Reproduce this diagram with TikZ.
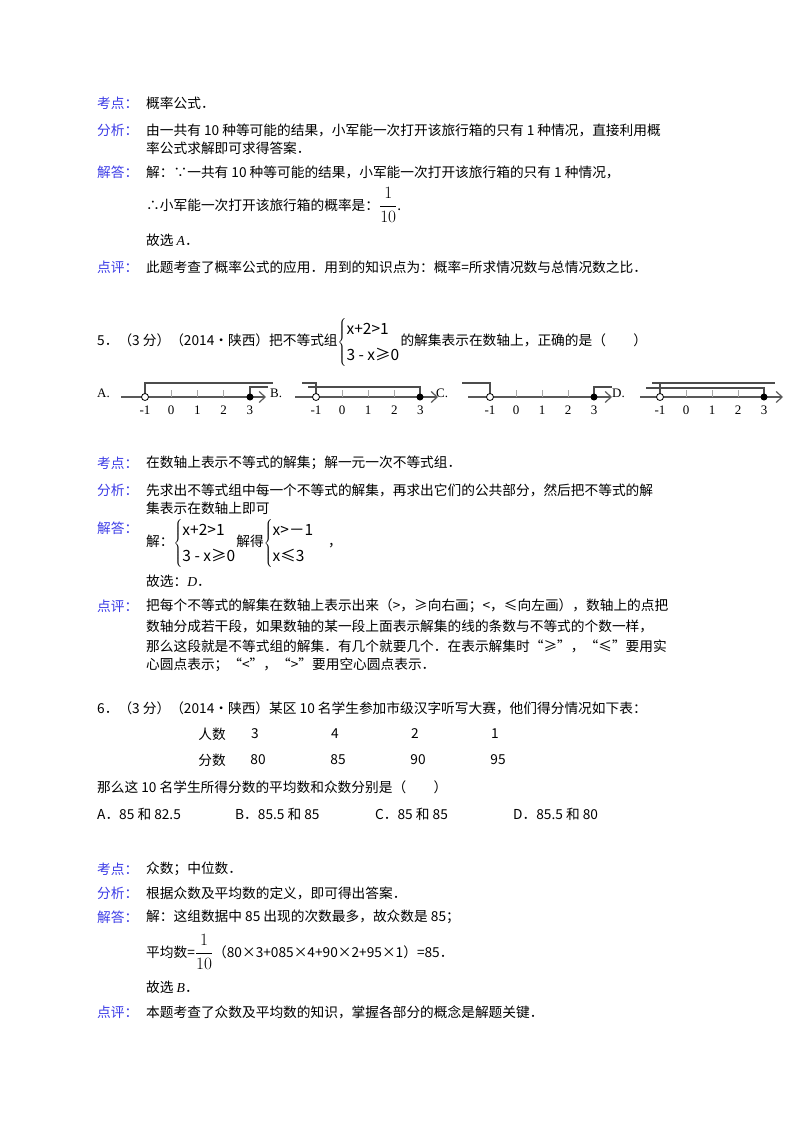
\documentclass[tikz,border=0pt]{standalone}
\usepackage{fontspec}
\setmainfont{Noto Sans CJK SC}
\newfontfamily\lat{Liberation Serif}
\usetikzlibrary{arrows.meta}
\definecolor{lab}{RGB}{60,60,230}
\tikzset{
  t/.style={anchor=west,inner sep=0pt,font=\fontsize{13.7}{15}\selectfont},
  lb/.style={t,text=lab},
  ax/.style={line width=1.2pt,gray!70!black,-{Straight Barb[length=6pt,width=11pt]}},
  sol/.style={line width=1.1pt,gray!60!black},
  tk/.style={gray!70,line width=0.6pt},
  nl/.style={font=\lat\fontsize{13}{14}\selectfont,inner sep=0pt},
  oc/.style={circle,draw=black,fill=white,inner sep=0pt,minimum size=7pt,line width=0.8pt},
  fc/.style={circle,fill=black,inner sep=0pt,minimum size=7pt}
}
\newcommand{\sysbox}[2]{{\fontsize{15.5}{17}\selectfont$\left\{\renewcommand{\arraystretch}{1.55}\begin{array}{@{}l@{}}\mbox{#1}\\ \mbox{#2}\end{array}\right.$}}
\newcommand{\sysA}{\sysbox{x+2>1}{3 - x≥0}}
\newcommand{\fr}{{\fontsize{17}{18}\selectfont$\displaystyle\frac{1}{10}$}}
\newcommand{\nline}[2]{% #1 x of -1, #2 spacing
  \foreach \k [count=\i from 0] in {-1,0,1,2,3}{
    \draw[tk] ({#1+\i*#2},397) -- ({#1+\i*#2},390);
    \node[nl] at ({#1+\i*#2},410) {\k};}
}
\begin{document}
\begin{tikzpicture}[x=1pt,y=-1pt]
\useasboundingbox (0,0) rectangle (800,1132);
% section 4
\node[lb] (l1) at (97,103) {考点：};
\node[t] (c1) at (146,103) {概率公式．};
\node[lb] (l2) at (97,130) {分析：};
\node[t] (c2) at (146,130) {由一共有 10 种等可能的结果，小军能一次打开该旅行箱的只有 1 种情况，直接利用概};
\node[t] (c2b) at (146,148) {率公式求解即可求得答案．};
\node[lb] (l3) at (97,172) {解答：};
\node[t] (c3) at (146,172) {解：∵一共有 10 种等可能的结果，小军能一次打开该旅行箱的只有 1 种情况，};
\node[t] (c3b) at (146,205) {∴小军能一次打开该旅行箱的概率是：\fr.};
\node[t] (c3c) at (146,240) {故选 {\lat\itshape A}．};
\node[lb] (l4) at (97,267) {点评：};
\node[t] (c4) at (146,267) {此题考查了概率公式的应用．用到的知识点为：概率=所求情况数与总情况数之比．};
% question 5
\node[t] (q5) at (97,342) {5．（3 分）（2014•陕西）把不等式组\sysA 的解集表示在数轴上，正确的是（\qquad ）};
% number lines
\node[nl,anchor=west] (oa) at (97,393) {A.};
\node[nl,anchor=west] (ob) at (270,393) {B.};
\node[nl,anchor=west] (oc) at (436,393) {C.};
\node[nl,anchor=west] (od) at (612,393) {D.};
% A
\draw[ax] (121,397) -- (266,397);
\nline{145}{26.2}
\draw[sol] (145,397) -- (145,383) -- (273,383);
\draw[sol] (250,397) -- (250,387) -- (268,387);
\node[oc] at (145,397) {}; \node[fc] at (250,397) {};
% B
\draw[ax] (295,397) -- (438,397);
\nline{316}{26.1}
\draw[sol] (302,383) -- (316,383) -- (316,397);
\draw[sol] (308,387) -- (420,387) -- (420,397);
\node[oc] at (316,397) {}; \node[fc] at (420,397) {};
% C
\draw[ax] (468,397) -- (612,397);
\nline{490}{26}
\draw[sol] (462,383) -- (490,383) -- (490,397);
\draw[sol] (594,397) -- (594,387) -- (612,387);
\node[oc] at (490,397) {}; \node[fc] at (594,397) {};
% D
\draw[ax] (640,397) -- (783,397);
\nline{660}{26}
\draw[sol] (652,383) -- (775,383);
\draw[sol] (660,383) -- (660,397);
\draw[sol] (646,388) -- (764,388) -- (764,397);
\node[oc] at (660,397) {}; \node[fc] at (764,397) {};
% section 5
\node[lb] (m1) at (97,463) {考点：};
\node[t] (d1) at (146,463) {在数轴上表示不等式的解集；解一元一次不等式组．};
\node[lb] (m2) at (97,490) {分析：};
\node[t] (d2) at (146,490) {先求出不等式组中每一个不等式的解集，再求出它们的公共部分，然后把不等式的解};
\node[t] (d2b) at (146,508) {集表示在数轴上即可};
\node[lb] (m3) at (97,528) {解答：};
\node[t] (d3) at (146,543) {解：\sysA 解得\sysbox{x>－1}{x≤3}\quad ，};
\node[t] (d3b) at (146,581) {故选：{\lat\itshape D}．};
\node[lb] (m4) at (97,606) {点评：};
\node[t] (d4) at (146,606) {把每个不等式的解集在数轴上表示出来（>，≥向右画；<，≤向左画），数轴上的点把};
\node[t] (d4b) at (146,626) {数轴分成若干段，如果数轴的某一段上面表示解集的线的条数与不等式的个数一样，};
\node[t] (d4c) at (146,646) {那么这段就是不等式组的解集．有几个就要几个．在表示解集时“≥”，“≤”要用实};
\node[t] (d4d) at (146,665) {心圆点表示；“<”，“>”要用空心圆点表示．};
% question 6
\node[t] (q6) at (97,708) {6．（3 分）（2014•陕西）某区 10 名学生参加市级汉字听写大赛，他们得分情况如下表：};
\node[t,anchor=center] (r1) at (212,734) {人数};
\node[t,anchor=center] (r2) at (212,760) {分数};
\foreach \x/\a/\b in {255/3/80,335/4/85,415/2/90,495/1/95}{
  \node[t,anchor=center] at (\x,734) {\a};
  \node[t,anchor=center] at (\x+3,760) {\b};}
\node[t] (q6b) at (97,787) {那么这 10 名学生所得分数的平均数和众数分别是（\qquad ）};
\node[t] (oA) at (97,814) {A．85 和 82.5};
\node[t] (oB) at (235,814) {B．85.5 和 85};
\node[t] (oC) at (375,814) {C．85 和 85};
\node[t] (oD) at (513,814) {D．85.5 和 80};
% section 6
\node[lb] (n1) at (97,869) {考点：};
\node[t] (e1) at (146,869) {众数；中位数．};
\node[lb] (n2) at (97,893) {分析：};
\node[t] (e2) at (146,893) {根据众数及平均数的定义，即可得出答案．};
\node[lb] (n3) at (97,917) {解答：};
\node[t] (e3) at (146,917) {解：这组数据中 85 出现的次数最多，故众数是 85；};
\node[t] (e3b) at (146,952) {平均数=\fr（80×3+085×4+90×2+95×1）=85．};
\node[t] (e3c) at (146,987) {故选 {\lat\itshape B}．};
\node[lb] (n4) at (97,1012) {点评：};
\node[t] (e4) at (146,1012) {本题考查了众数及平均数的知识，掌握各部分的概念是解题关键．};
\end{tikzpicture}
\end{document}
